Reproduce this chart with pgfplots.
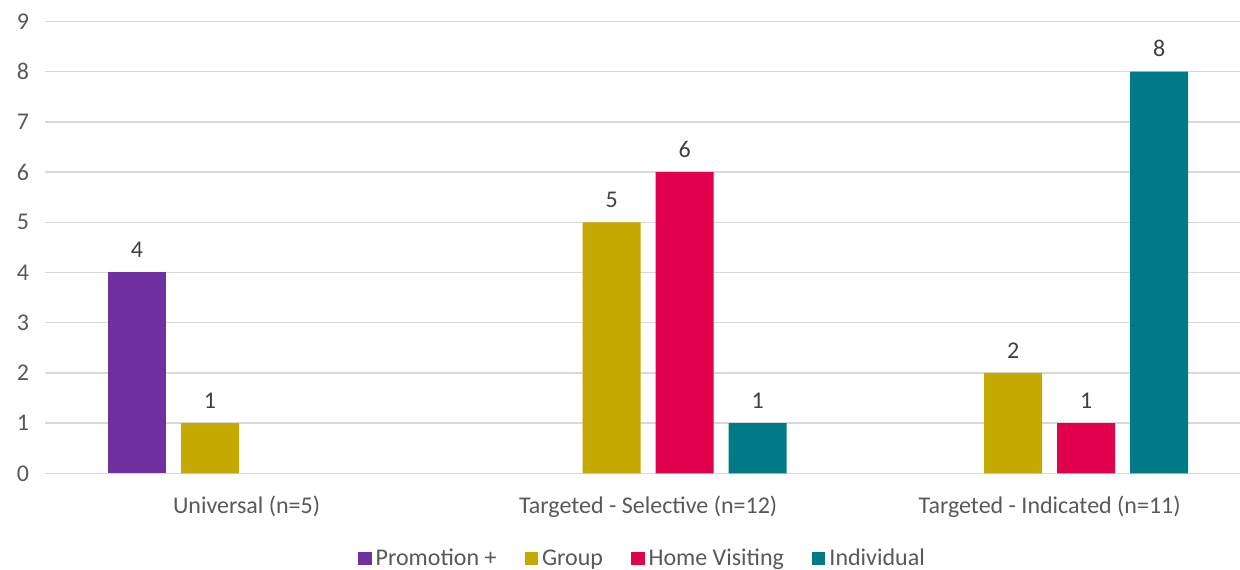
\documentclass[border=0pt]{standalone}
\usepackage{fontspec}
\setmainfont{Carlito}
\usepackage{pgfplots}
\pgfplotsset{compat=1.18}
\definecolor{cPromo}{HTML}{7030A0}
\definecolor{cGroup}{HTML}{C5A900}
\definecolor{cHome}{HTML}{E0004D}
\definecolor{cIndiv}{HTML}{007A87}
\definecolor{cText}{HTML}{595959}
\definecolor{cLab}{HTML}{404040}
\definecolor{cGrid}{HTML}{D9D9D9}
\begin{document}
\begin{tikzpicture}
\useasboundingbox (0pt,0pt) rectangle (1240pt,570pt);
\begin{axis}[
  at={(45pt,96.7pt)}, anchor=south west,
  scale only axis,
  width=1195pt, height=451.8pt,
  xmin=-0.502, xmax=2.474,
  ymin=0, ymax=9,
  ytick={0,1,...,9},
  xtick={0,1,2},
  xticklabels={Universal (n=5),Targeted - Selective (n=12),Targeted - Indicated (n=11)},
  major tick length=0pt,
  axis line style={draw=none},
  ymajorgrids,
  major grid style={color=cGrid, line width=1.5pt},
  ybar,
  bar width=58pt,
  /pgf/number format/assume math mode=true,
  tick label style={font=\fontsize{24}{28}\selectfont, text=cText},
  yticklabel style={xshift=-12.5pt},
  xticklabel style={yshift=-19pt},
  nodes near coords,
  nodes near coords style={font=\fontsize{24}{28}\selectfont, text=cLab, yshift=11pt},
  legend columns=4,
  legend style={draw=none, at={(0.5,-0.1875)}, anchor=center,
    font=\fontsize{24}{28}\selectfont, text=cText,
    /tikz/every odd column/.append style={column sep=2pt},
    /tikz/every even column/.append style={column sep=26pt}},
  legend image code/.code={\fill[#1] (0pt,-6.5pt) rectangle (13.5pt,6.5pt);},
]
\addplot[fill=cPromo, draw=none, bar shift=-109.5pt] coordinates {(0,4)};
\addlegendentry{Promotion +}
\addplot[fill=cGroup, draw=none, bar shift=-36.5pt] coordinates {(0,1) (1,5) (2,2)};
\addlegendentry{Group}
\addplot[fill=cHome, draw=none, bar shift=36.5pt] coordinates {(1,6) (2,1)};
\addlegendentry{Home Visiting}
\addplot[fill=cIndiv, draw=none, bar shift=109.5pt] coordinates {(1,1) (2,8)};
\addlegendentry{Individual}
\end{axis}
\end{tikzpicture}
\end{document}
